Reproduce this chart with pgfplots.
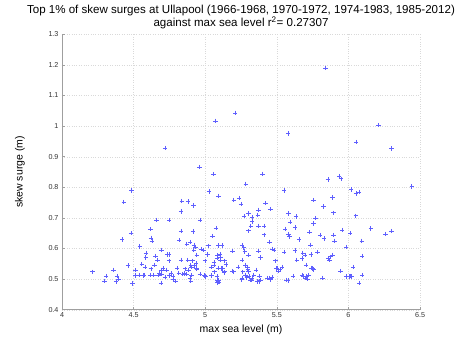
\documentclass[border=0pt]{standalone}
\usepackage{pgfplots}
\pgfplotsset{compat=1.18}
\usepackage{fontspec}
\setmainfont{Liberation Sans}
\definecolor{mkblue}{RGB}{95,95,255}
\pgfplotstableread{
x y
4.719 0.928
5.071 1.017
5.210 1.043
4.960 0.866
5.057 0.843
5.839 1.189
5.580 0.976
6.209 1.003
6.055 0.948
6.302 0.927
5.399 0.844
5.857 0.826
5.936 0.835
5.948 0.828
4.484 0.790
4.431 0.752
4.836 0.755
4.880 0.754
4.917 0.741
4.831 0.721
4.661 0.693
4.749 0.693
4.617 0.663
4.482 0.650
4.621 0.635
4.628 0.625
4.421 0.629
4.831 0.657
4.915 0.656
4.894 0.621
4.871 0.615
4.819 0.627
4.696 0.595
4.543 0.606
4.587 0.586
4.585 0.571
4.557 0.549
4.580 0.540
4.461 0.544
4.654 0.575
4.666 0.562
4.733 0.581
4.747 0.581
4.747 0.560
4.691 0.530
4.621 0.534
4.640 0.513
4.570 0.512
4.512 0.529
4.512 0.512
4.491 0.486
4.212 0.524
4.361 0.530
4.307 0.510
4.298 0.494
4.384 0.510
4.396 0.500
4.377 0.492
4.696 0.517
4.719 0.506
4.761 0.519
4.731 0.530
4.775 0.508
4.777 0.499
4.691 0.488
4.794 0.493
4.815 0.519
4.805 0.536
4.861 0.534
4.843 0.516
4.871 0.516
4.894 0.504
4.899 0.494
4.882 0.530
4.899 0.546
4.912 0.560
4.920 0.595
4.833 0.563
4.647 0.546
4.705 0.535
4.538 0.513
4.619 0.513
4.857 0.518
4.750 0.512
4.680 0.518
4.675 0.513
4.573 0.513
5.283 0.811
5.027 0.786
5.094 0.772
5.552 0.789
5.199 0.758
5.238 0.765
5.250 0.745
5.420 0.748
5.455 0.729
5.371 0.726
5.755 0.758
5.303 0.715
5.271 0.706
5.327 0.702
5.367 0.710
5.327 0.688
4.964 0.693
5.583 0.715
5.634 0.704
5.592 0.686
5.771 0.699
5.757 0.682
5.075 0.667
5.318 0.674
5.371 0.674
5.409 0.674
5.559 0.664
5.627 0.669
5.303 0.658
5.411 0.645
5.583 0.647
5.590 0.639
5.655 0.630
5.727 0.653
5.802 0.644
5.052 0.641
5.119 0.610
5.022 0.609
5.257 0.611
5.269 0.603
5.448 0.622
5.467 0.598
5.479 0.595
5.552 0.589
5.627 0.594
5.681 0.586
5.736 0.612
5.783 0.588
5.192 0.592
5.092 0.610
4.922 0.612
4.975 0.598
4.987 0.595
5.087 0.577
5.103 0.581
5.108 0.571
4.941 0.579
4.999 0.560
5.061 0.555
5.045 0.540
5.136 0.560
5.145 0.548
4.924 0.544
4.941 0.533
4.964 0.516
4.992 0.511
5.045 0.512
5.122 0.535
5.131 0.522
5.192 0.526
5.231 0.540
5.262 0.524
5.255 0.498
5.294 0.540
5.297 0.532
5.301 0.524
5.290 0.505
5.306 0.508
5.325 0.497
5.355 0.530
5.378 0.510
5.376 0.492
5.436 0.503
5.455 0.499
5.503 0.537
5.510 0.526
5.522 0.532
5.536 0.539
5.490 0.560
5.569 0.497
5.580 0.495
5.639 0.562
5.678 0.567
5.697 0.579
5.613 0.510
5.685 0.508
5.704 0.510
5.713 0.500
5.750 0.535
5.820 0.504
5.092 0.495
5.096 0.490
5.085 0.495
5.094 0.491
5.085 0.489
5.090 0.493
4.931 0.605
4.878 0.562
4.936 0.552
4.903 0.540
4.938 0.537
4.903 0.513
4.996 0.513
5.001 0.508
5.061 0.546
5.066 0.524
5.082 0.568
5.106 0.562
5.089 0.537
5.113 0.535
5.136 0.524
5.082 0.508
5.199 0.524
5.257 0.503
5.280 0.513
5.327 0.503
5.339 0.513
5.315 0.497
5.362 0.492
5.385 0.497
5.448 0.503
5.467 0.505
5.497 0.535
5.017 0.581
5.276 0.590
5.303 0.579
5.373 0.592
5.385 0.570
5.257 0.562
5.280 0.546
6.442 0.802
6.018 0.793
6.053 0.780
6.074 0.785
5.888 0.767
5.825 0.737
5.897 0.717
6.051 0.707
6.156 0.666
6.300 0.657
6.258 0.647
5.957 0.660
6.013 0.650
5.895 0.644
5.830 0.633
5.902 0.625
6.093 0.625
5.985 0.605
6.097 0.575
5.890 0.579
5.876 0.573
5.867 0.562
5.862 0.567
6.034 0.540
5.946 0.526
6.097 0.513
5.988 0.508
6.004 0.508
6.023 0.508
6.012 0.510
6.076 0.488
5.739 0.581
5.704 0.546
5.741 0.537
5.757 0.532
5.676 0.513
5.699 0.503
5.723 0.513
}\surges
\begin{document}
\begin{tikzpicture}[x=1bp,y=1bp]
\useasboundingbox (-62,-40.3) rectangle (403,309.7);
\begin{axis}[
  scale only axis, width=358bp, height=275.4bp,
  xmin=4, xmax=6.5, ymin=0.4, ymax=1.3,
  xtick={4,4.5,5,5.5,6,6.5},
  ytick={0.4,0.5,0.6,0.7,0.8,0.9,1,1.1,1.2,1.3},
  axis x line*=bottom, axis y line*=left,
  axis line style={gray!75, line width=0.8pt},
  grid=major, major grid style={dotted, gray!30, line width=0.4pt},
  tick align=inside, major tick length=3bp, tick style={gray!75, line width=0.5pt},
  /pgf/number format/assume math mode=true,
  tick label style={font=\fontsize{7.2}{8}\selectfont, text=black!80},
  xticklabel style={yshift=1bp},
  xlabel={max sea level (m)}, ylabel={skew surge (m)},
  label style={font=\fontsize{10.5}{12}\selectfont},
  xlabel style={at={(axis description cs:0.5,-0.0720)}, anchor=center},
  ylabel style={at={(axis description cs:-0.1173,0.5)}, anchor=center},
  title={Top 1\% of skew surges at Ullapool (1966-1968, 1970-1972, 1974-1983, 1985-2012)\\against max sea level r\textsuperscript{2}= 0.27307},
  title style={font=\fontsize{11.6}{13.2}\selectfont, align=center, at={(axis description cs:0.5,1)}, anchor=south, yshift=-4.5bp},
]
\addplot[only marks, mark=+, mark size=2.2bp, draw=mkblue, color=mkblue, mark options={draw=mkblue, line width=0.55pt}] table[x=x,y=y] {\surges};
\end{axis}
\end{tikzpicture}
\end{document}
